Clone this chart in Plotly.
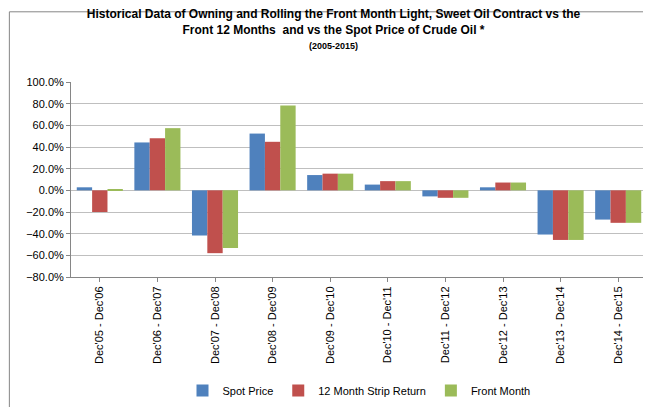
import plotly.graph_objects as go

periods = ["Dec'05 - Dec'06", "Dec'06 - Dec'07", "Dec'07 - Dec'08", "Dec'08 - Dec'09",
           "Dec'09 - Dec'10", "Dec'10 - Dec'11", "Dec'11 - Dec'12", "Dec'12 - Dec'13",
           "Dec'13 - Dec'14", "Dec'14 - Dec'15"]
spot = [2.8, 44.2, -41.7, 52.4, 14.1, 5.3, -5.6, 2.8, -40.8, -27.0]
strip12 = [-20.0, 48.0, -58.0, 44.8, 15.4, 8.5, -6.9, 7.2, -45.8, -30.0]
front = [0.6, 57.4, -53.3, 78.4, 15.4, 8.5, -6.9, 7.2, -45.8, -30.0]

fig = go.Figure()
for name, vals, col in [("Spot Price", spot, "#4F81BD"),
                        ("12 Month Strip Return", strip12, "#C0504D"),
                        ("Front Month", front, "#9BBB59")]:
    fig.add_trace(go.Bar(x=periods, y=vals, name=name, marker_color=col,
                         marker_line_width=0))

fig.update_layout(
    width=651, height=407,
    font=dict(family="Liberation Sans, Arial", size=11, color="black"),
    title=dict(text="<b>Historical Data of Owning and Rolling the Front Month Light, Sweet Oil Contract vs the<br>"
                    "Front 12 Months  and vs the Spot Price of Crude Oil *</b><br>"
                    "<b><span style='font-size:9px'>(2005-2015)</span></b>",
               x=0.5, xanchor="center", y=0.975, yanchor="top", font=dict(size=12)),
    margin=dict(l=63, r=12, t=74, b=137),
    bargap=0.2, bargroupgap=0,
    plot_bgcolor="white", paper_bgcolor="white",
    legend=dict(orientation="h", x=0.5, xanchor="center", y=-0.5, yanchor="top",
                font=dict(size=11), itemwidth=30, tracegroupgap=0),
    xaxis=dict(tickangle=-90, showline=True, linecolor="#868686", ticks="outside",
               ticklen=4, tickcolor="#868686"),
    yaxis=dict(range=[-80, 100], dtick=20, ticksuffix="%", tickformat=".1f",
               gridcolor="#BFBFBF", showline=True, linecolor="#868686",
               zeroline=True, zerolinecolor="#BFBFBF", zerolinewidth=1,
               ticks="outside", ticklen=4, tickcolor="#868686"),
    shapes=[dict(type="rect", xref="paper", yref="paper", x0=-0.107, x1=1.017, y0=-0.683, y1=1.36,
                 line=dict(color="#868686", width=1))],
)
fig.write_html("out.html")
